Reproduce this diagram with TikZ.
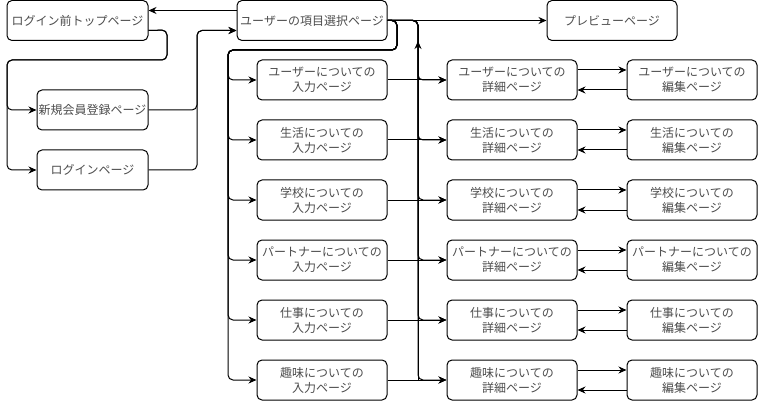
\documentclass[tikz,border=0pt]{standalone}
\usepackage{fontspec}
\newfontfamily\cjk{Noto Sans CJK JP}
\usepackage{tikz}
\usetikzlibrary{arrows.meta}

\begin{document}
\begin{tikzpicture}[x=1pt,y=-1pt,
    page/.style={draw,line width=1pt,rounded corners=5pt,minimum height=40pt,
        inner sep=0pt,align=center,text=black!70,
        font=\cjk\fontsize{12}{15}\selectfont},
    link/.style={line width=1pt,rounded corners=5pt,-{Stealth[length=8pt,width=7pt]}}]

\useasboundingbox (0,0) rectangle (758,401);

\node[page,minimum width=141pt] (top) at (77.5,20.5) {ログイン前トップページ};
\node[page,minimum width=150pt] (select) at (312,20.5) {ユーザーの項目選択ページ};
\node[page,minimum width=130pt] (preview) at (612,20.5) {プレビューページ};
\node[page,minimum width=111pt] (signup) at (92.5,110) {新規会員登録ページ};
\node[page,minimum width=111pt] (login) at (92.5,170) {ログインページ};

\foreach \i/\name in {1/ユーザー,2/生活,3/学校,4/パートナー,5/仕事,6/趣味} {
    \node[page,minimum width=130pt] (in\i) at (322,20+60*\i) {\name についての\\入力ページ};
    \node[page,minimum width=130pt] (det\i) at (512,20+60*\i) {\name についての\\詳細ページ};
    \node[page,minimum width=130pt] (edit\i) at (692,20+60*\i) {\name についての\\編集ページ};
}

\draw[link] ([yshift=10pt]select.west) -- ([yshift=10pt]top.east);
\draw[link] ([yshift=-10pt]top.east) -- (167,30) -- (167,60) -- (7,60) |- (signup.west);
\draw[link] ([yshift=-10pt]top.east) -- (167,30) -- (167,60) -- (7,60) |- (login.west);
\draw[link] (signup.east) -- (197,110) |- ([yshift=-10pt]select.west);
\draw[link] (login.east) -- (197,170) |- ([yshift=-10pt]select.west);
\draw[link] (select.east) -- (preview.west);

\foreach \i in {1,...,6} {
    \draw[link] (select.east) -- (397,20.5) -- (397,50) -- (228,50) |- (in\i.west);
    \draw[link] (select.east) -- (418,20.5) |- (det\i.west);
    \draw[link] (in\i.east) -- (det\i.west);
    \draw[link] ([yshift=10pt]det\i.east) -- ([yshift=10pt]edit\i.west);
    \draw[link] ([yshift=-10pt]edit\i.west) -- ([yshift=-10pt]det\i.east);
}

\draw[link,rounded corners=0pt] (in6.east) -| (418,41);

\end{tikzpicture}
\end{document}
